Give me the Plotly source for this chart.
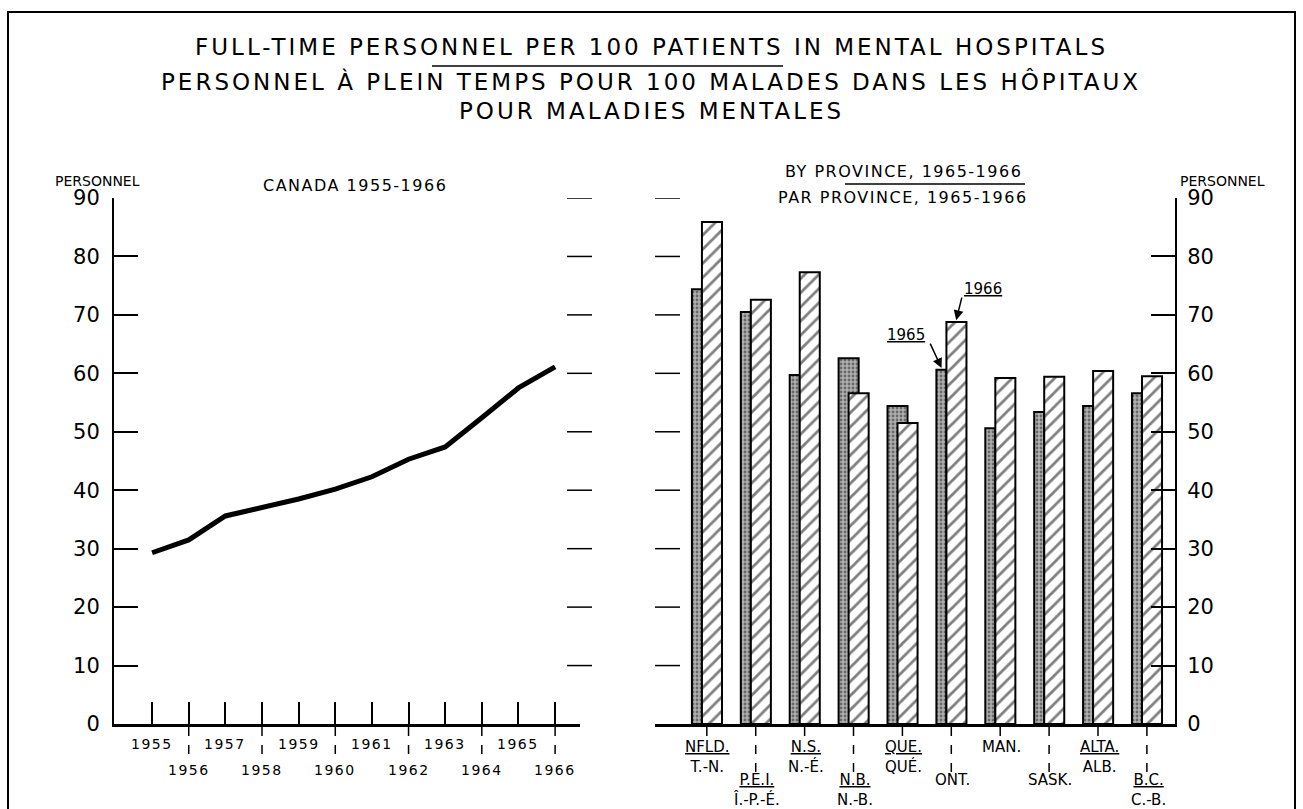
import plotly.graph_objects as go

# --- data ---
years = list(range(1955, 1967))
canada_personnel = [29.3, 31.5, 35.6, 37.0, 38.5, 40.2, 42.3, 45.3, 47.4, 52.4, 57.5, 61.1]

provinces = ["NFLD.", "P.E.I.", "N.S.", "N.B.", "QUE.", "ONT.", "MAN.", "SASK.", "ALTA.", "B.C."]
provinces_fr = ["T.-N.", "Î.-P.-É.", "N.-É.", "N.-B.", "QUÉ.", "", "", "", "ALB.", "C.-B."]
personnel_1965 = [74.4, 70.5, 59.7, 62.6, 54.4, 60.6, 50.6, 53.4, 54.4, 56.6]
personnel_1966 = [85.9, 72.6, 77.3, 56.6, 51.5, 68.8, 59.2, 59.4, 60.4, 59.5]

y_ticks = list(range(0, 100, 10))

W, H = 1303, 809
FONT = "DejaVu Sans, Verdana, sans-serif"


def px(x):
    return x / W


def py(y):
    return 1 - y / H


fig = go.Figure()

# left panel: Canada line
fig.add_trace(go.Scatter(
    x=years, y=canada_personnel, mode="lines",
    line=dict(color="black", width=5),
    xaxis="x", yaxis="y", showlegend=False, hoverinfo="x+y"
))

# right panel: bars by province (1965 narrow stippled, 1966 hatched)
w65 = [0.205, 0.205, 0.205, 0.41, 0.41, 0.205, 0.205, 0.205, 0.205, 0.205]
fig.add_trace(go.Bar(
    x=provinces, y=personnel_1965, name="1965",
    width=w65, offset=[-0.205] * len(provinces),
    marker=dict(color="#9a9a9a", line=dict(color="black", width=2),
                pattern=dict(shape=".", fgcolor="#222222", bgcolor="#b0b0b0",
                             size=4, solidity=0.4)),
    xaxis="x2", yaxis="y2", showlegend=False
))
fig.add_trace(go.Bar(
    x=provinces, y=personnel_1966, name="1966",
    width=0.41, offset=0,
    marker=dict(color="white", line=dict(color="black", width=2),
                pattern=dict(shape="/", fgcolor="black", bgcolor="white",
                             size=10, solidity=0.28)),
    xaxis="x2", yaxis="y2", showlegend=False
))

axis_common = dict(showgrid=False, zeroline=False, color="black", automargin=False)

fig.update_layout(
    width=W, height=H, autosize=False,
    margin=dict(l=0, r=0, t=0, b=0, pad=0, autoexpand=False),
    paper_bgcolor="white", plot_bgcolor="white",
    barmode="overlay", showlegend=False,
    font=dict(family=FONT, color="black"),
    xaxis=dict(domain=[px(114), px(580)], range=[1953.96, 1966.68],
               showline=True, linewidth=3, linecolor="black",
               ticks="inside", ticklen=22, tickwidth=1.5, tickcolor="black",
               tickvals=years, showticklabels=False, anchor="y", **axis_common),
    yaxis=dict(domain=[py(724), py(198)], range=[0, 90],
               showline=True, linewidth=2, linecolor="black",
               ticks="inside", ticklen=24, tickwidth=1.5, tickcolor="black",
               tickvals=y_ticks, tickfont=dict(size=21, family=FONT),
               ticklabelstandoff=8, anchor="x", **axis_common),
    xaxis2=dict(domain=[px(655), px(1175)], range=[-0.96, 9.675],
                type="category", showline=True, linewidth=3, linecolor="black",
                ticks="", showticklabels=False, anchor="y2", **axis_common),
    yaxis2=dict(domain=[py(724), py(198)], range=[0, 90], side="right",
                showline=True, linewidth=2, linecolor="black",
                ticks="inside", ticklen=24, tickwidth=1.5, tickcolor="black",
                tickvals=y_ticks, tickfont=dict(size=21, family=FONT),
                ticklabelstandoff=6, anchor="x2", **axis_common),
)

shapes = []
annotations = []


def note(text, x, y, size, **kw):
    d = dict(text=text, x=x, y=y, xref="paper", yref="paper", showarrow=False,
             xanchor="center", yanchor="middle", font=dict(size=size))
    d.update(kw)
    annotations.append(d)


def spaced(text, gap):
    return f'<span style="letter-spacing:{gap}px">{text}</span>'


# outer frame
shapes.append(dict(type="rect", xref="paper", yref="paper",
                   x0=px(8), x1=px(1295), y0=-0.05, y1=py(12),
                   line=dict(color="black", width=2)))

# separator lines in the headings
shapes.append(dict(type="line", xref="paper", yref="paper",
                   x0=px(432), x1=px(783), y0=py(66), y1=py(66),
                   line=dict(color="black", width=1.5)))
shapes.append(dict(type="line", xref="paper", yref="paper",
                   x0=px(845), x1=px(1025), y0=py(184), y1=py(184),
                   line=dict(color="black", width=1.5)))

# short dashes between the two panels
for v in y_ticks[1:]:
    shapes.append(dict(type="line", xref="paper", yref="y", x0=px(567), x1=px(592),
                       y0=v, y1=v, line=dict(color="black", width=1.5)))
    shapes.append(dict(type="line", xref="paper", yref="y2", x0=px(655), x1=px(680),
                       y0=v, y1=v, line=dict(color="black", width=1.5)))

# titles
note(spaced("FULL-TIME PERSONNEL PER 100 PATIENTS IN MENTAL HOSPITALS", 3), px(651), py(47), 23)
note(spaced("PERSONNEL À PLEIN TEMPS POUR 100 MALADES DANS LES HÔPITAUX", 3), px(651), py(82), 23)
note(spaced("POUR MALADIES MENTALES", 3), px(651), py(111), 23)

note(spaced("CANADA 1955-1966", 1.5), px(355), py(185), 16)
note(spaced("BY PROVINCE, 1965-1966", 1.5), px(903), py(171), 16)
note(spaced("PAR PROVINCE, 1965-1966", 1.5), px(903), py(197), 16)
note("PERSONNEL", px(97), py(181), 14)
note("PERSONNEL", px(1222), py(181), 14)

# year labels, odd years on the first row, even years lower with dashed leaders
for i, yr in enumerate(years):
    row_y = 744 if i % 2 == 0 else 770
    annotations.append(dict(text=spaced(str(yr), 1.5), x=yr, xref="x", yref="paper",
                            y=py(row_y), xanchor="center", yanchor="middle",
                            showarrow=False, font=dict(size=14)))
    if i % 2 == 1:
        shapes.append(dict(type="line", xref="x", yref="paper", x0=yr, x1=yr,
                           y0=py(727), y1=py(761),
                           line=dict(color="black", width=1.5, dash="dash")))

# province labels, alternating rows
for i, (en, fr) in enumerate(zip(provinces, provinces_fr)):
    txt = f"<u>{en}</u><br>{fr}" if fr else en
    top = 736 if i % 2 == 0 else 769
    annotations.append(dict(text=txt, x=i, xref="x2", xshift=6, yref="paper", y=py(top),
                            xanchor="center", yanchor="top", showarrow=False,
                            font=dict(size=15)))
    shapes.append(dict(type="line", xref="x2", yref="paper", x0=i + 0.1, x1=i + 0.1,
                       y0=py(727), y1=py(738 if i % 2 == 0 else 772),
                       line=dict(color="black", width=1.5, dash="dash")))

# 1965 / 1966 callouts on Ontario
ont = provinces.index("ONT.")
note("<u>1965</u>", px(906), py(335), 15)
annotations.append(dict(text="", x=ont - 0.1, y=personnel_1965[ont] + 0.3,
                        xref="x2", yref="y2", ax=-12, ay=-26, showarrow=True,
                        arrowhead=2, arrowsize=1.3, arrowwidth=1.5, arrowcolor="black"))
note("<u>1966</u>", px(983), py(289), 15)
annotations.append(dict(text="", x=ont + 0.2, y=personnel_1966[ont] + 0.3,
                        xref="x2", yref="y2", ax=6, ay=-24, showarrow=True,
                        arrowhead=2, arrowsize=1.3, arrowwidth=1.5, arrowcolor="black"))

fig.update_layout(shapes=shapes, annotations=annotations)

fig.write_html("out.html", config={"displayModeBar": False},
               post_script="document.body.style.margin='0';")
